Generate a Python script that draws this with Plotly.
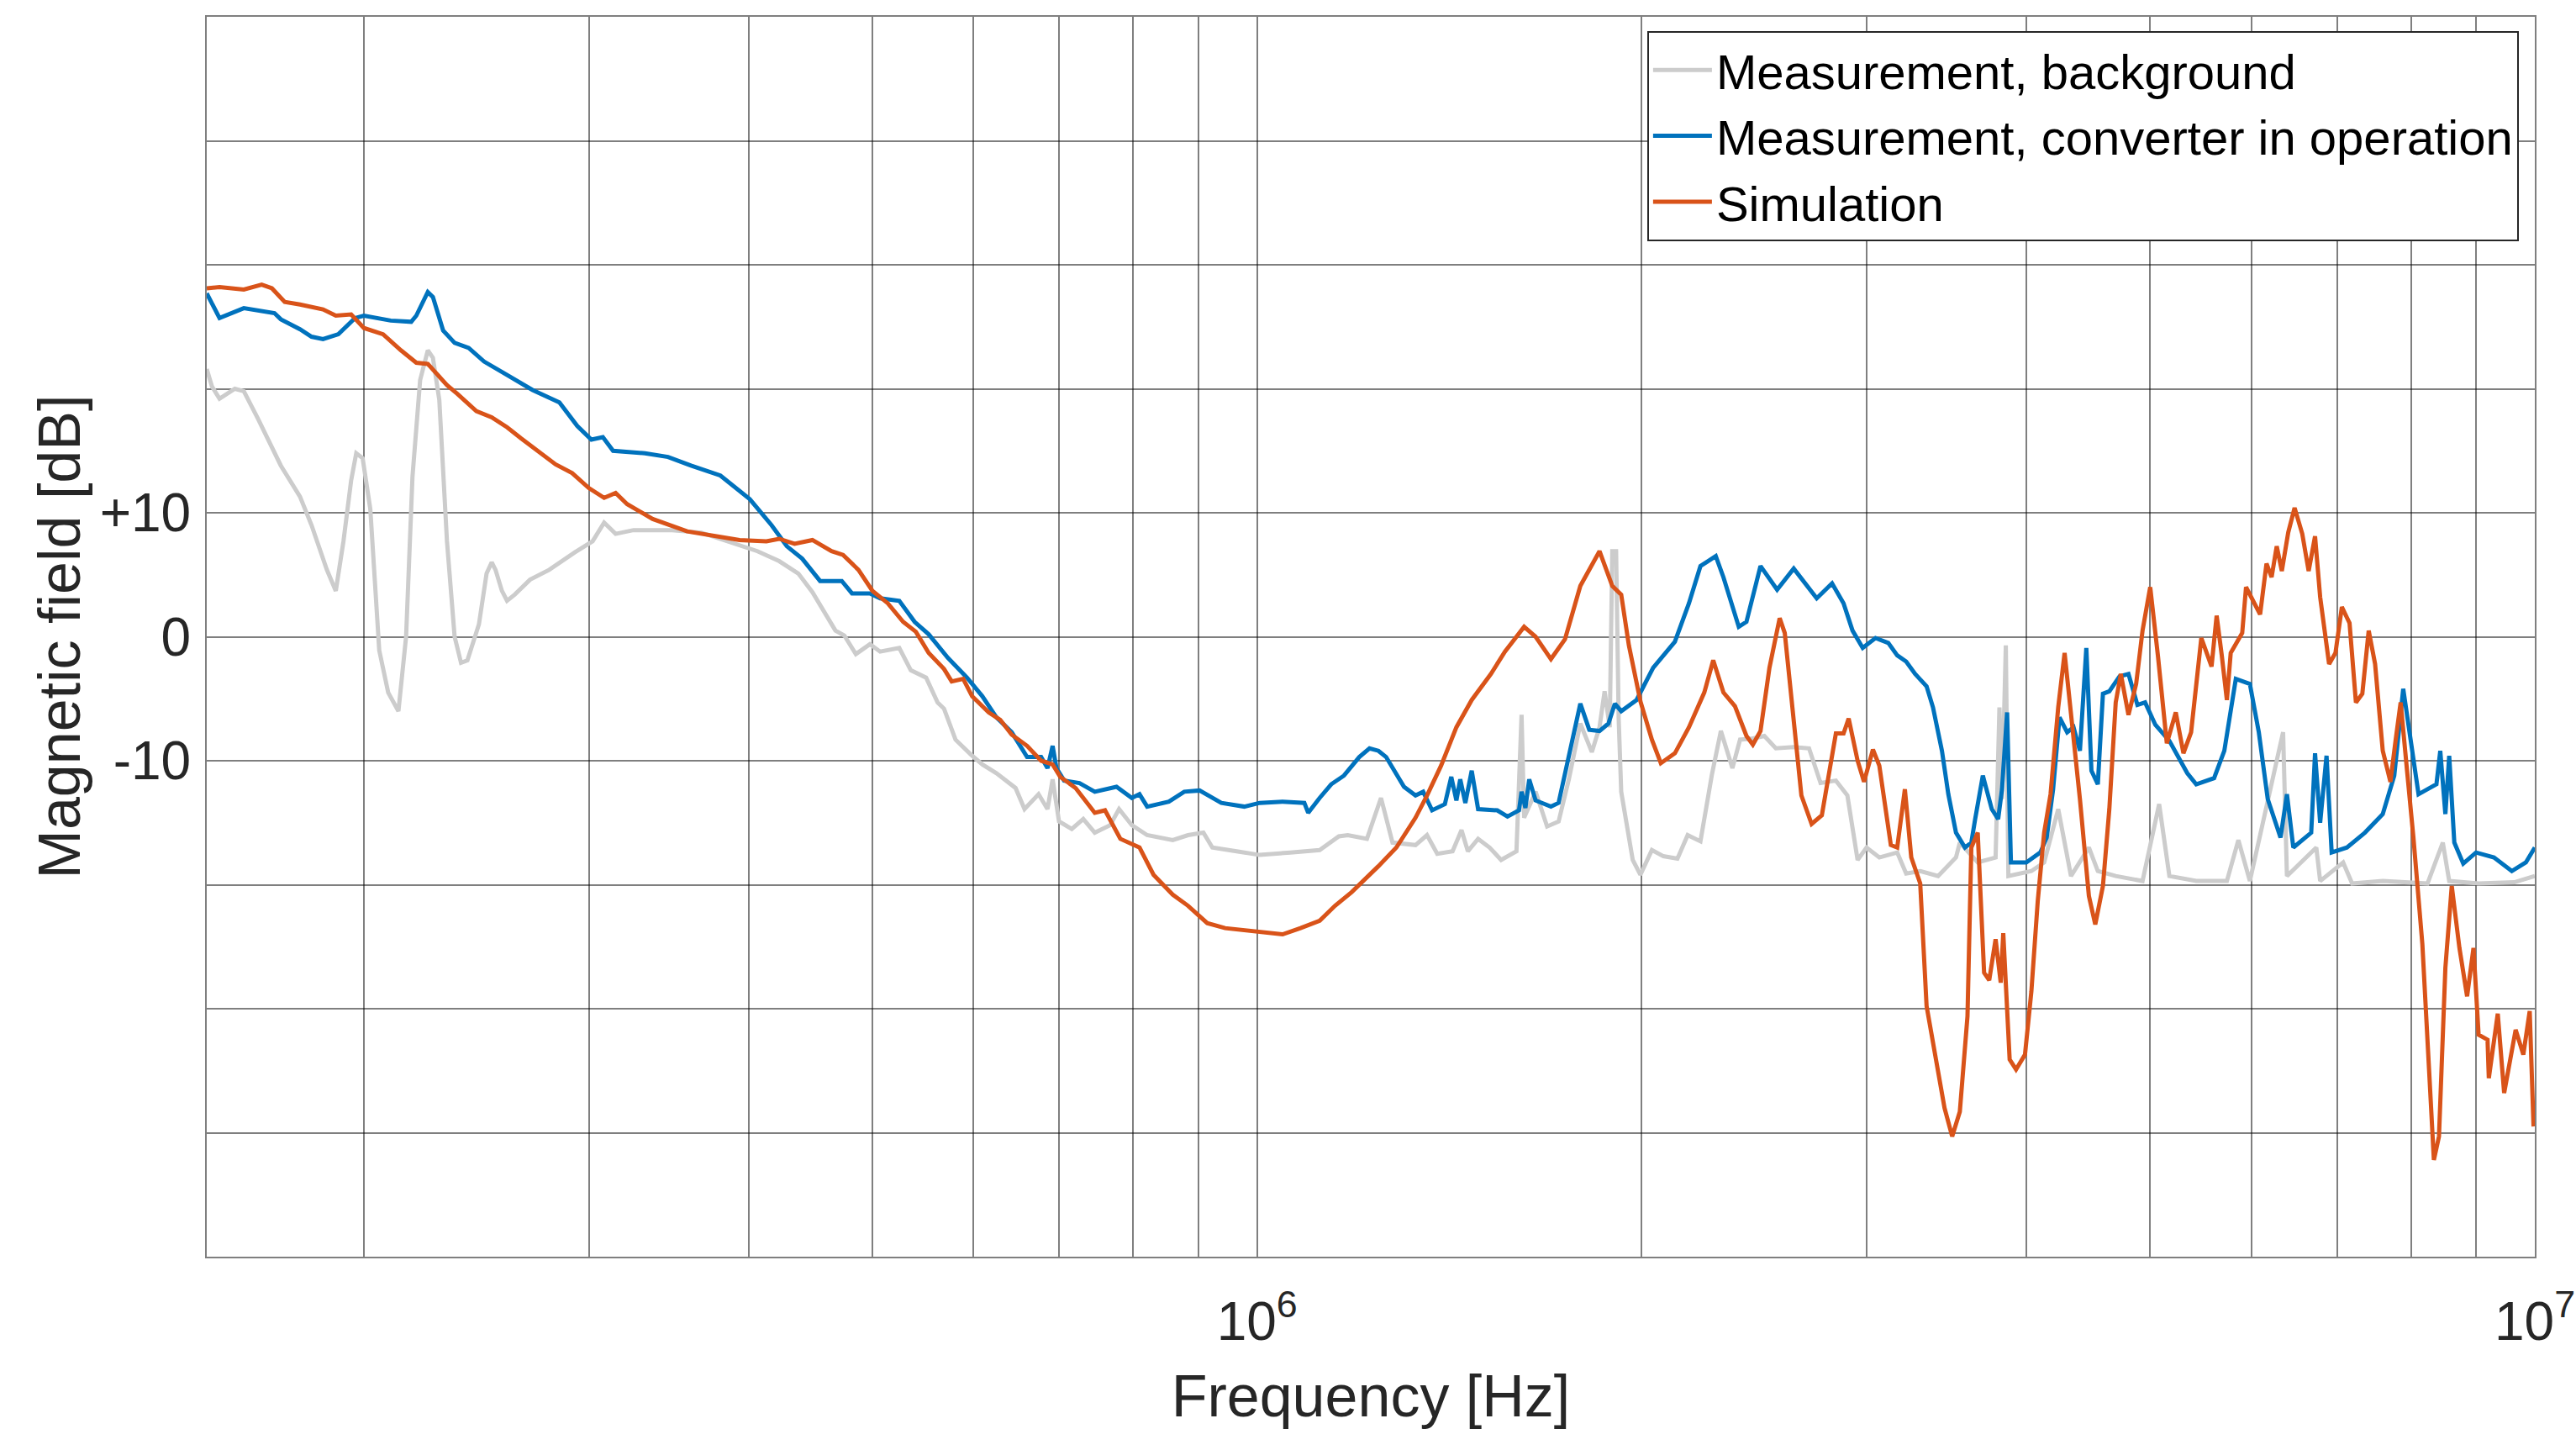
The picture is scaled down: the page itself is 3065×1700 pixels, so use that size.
import numpy as np
import plotly.graph_objects as go

# ---- data (log10 of frequency in Hz, level in dB) ----
bg_logf = [5.178, 5.182, 5.188, 5.200, 5.207, 5.218, 5.236, 5.251, 5.260, 5.272, 5.279, 5.285,
           5.291, 5.295, 5.300, 5.306, 5.313, 5.320, 5.328, 5.334, 5.339, 5.345, 5.351, 5.355,
           5.360, 5.366, 5.372, 5.377, 5.382, 5.391, 5.397, 5.401, 5.404, 5.409, 5.413, 5.419,
           5.431, 5.446, 5.466, 5.480, 5.489, 5.498, 5.512, 5.542, 5.565, 5.592, 5.609, 5.626,
           5.641, 5.652, 5.664, 5.670, 5.677, 5.686, 5.697, 5.705, 5.720, 5.729, 5.741, 5.750,
           5.755, 5.764, 5.776, 5.785, 5.796, 5.811, 5.818, 5.829, 5.836, 5.840, 5.845, 5.855,
           5.864, 5.873, 5.885, 5.892, 5.902, 5.914, 5.934, 5.946, 5.958, 5.965, 5.984, 6.002,
           6.026, 6.049, 6.064, 6.071, 6.086, 6.092, 6.097, 6.106, 6.124, 6.133, 6.141, 6.153,
           6.160, 6.165, 6.173, 6.182, 6.191, 6.203, 6.207, 6.209, 6.218, 6.227, 6.236, 6.244,
           6.253, 6.262, 6.268, 6.272, 6.276, 6.278, 6.281, 6.283, 6.285, 6.294, 6.300, 6.309,
           6.318, 6.329, 6.337, 6.347, 6.356, 6.363, 6.372, 6.378, 6.388, 6.397, 6.406, 6.420,
           6.432, 6.441, 6.453, 6.462, 6.470, 6.477, 6.487, 6.501, 6.508, 6.519, 6.533, 6.547,
           6.550, 6.564, 6.578, 6.581, 6.583, 6.586, 6.588, 6.606, 6.616, 6.627, 6.637, 6.651,
           6.658, 6.672, 6.693, 6.706, 6.714, 6.735, 6.759, 6.768, 6.777, 6.803, 6.806, 6.829,
           6.832, 6.850, 6.857, 6.881, 6.916, 6.928, 6.933, 6.956, 6.984, 7.000]
bg_db = [21.6, 20.2, 19.2, 20.0, 19.8, 17.6, 13.8, 11.3, 9.0, 5.4, 3.7, 7.7,
         12.6, 14.8, 14.4, 10.3, -1.1, -4.5, -6.0, 0.0, 12.9, 20.7, 23.1, 22.5,
         19.1, 7.7, 0.0, -2.1, -1.9, 1.0, 5.1, 6.0, 5.4, 3.7, 2.9, 3.4,
         4.6, 5.4, 6.8, 7.7, 9.2, 8.3, 8.6, 8.6, 8.4, 7.5, 6.9, 6.1,
         5.1, 3.6, 1.5, 0.5, 0.1, -1.4, -0.6, -1.2, -0.9, -2.7, -3.3, -5.3,
         -5.8, -8.3, -9.5, -10.3, -11.0, -12.2, -13.9, -12.7, -13.9, -11.5, -14.9, -15.5,
         -14.7, -15.8, -15.2, -13.9, -15.2, -16.0, -16.4, -16.0, -15.8, -17.0, -17.3, -17.6,
         -17.4, -17.2, -16.1, -16.0, -16.3, -14.6, -13.0, -16.6, -16.8, -16.0, -17.5, -17.3,
         -15.6, -17.3, -16.3, -17.0, -18.0, -17.3, -6.3, -14.6, -12.5, -15.3, -14.9, -11.5,
         -7.0, -9.3, -7.3, -4.4, -7.3, 6.9, 6.9, -6.6, -12.5, -18.0, -19.2, -17.2,
         -17.7, -17.9, -16.0, -16.5, -11.1, -7.6, -10.6, -8.3, -8.2, -8.0, -9.0, -8.9,
         -9.0, -11.8, -11.6, -12.8, -18.0, -17.0, -17.8, -17.4, -19.1, -18.9, -19.3, -17.8,
         -16.6, -18.2, -17.8, -5.7, -13.1, -0.7, -19.3, -18.9, -18.2, -13.9, -19.3, -17.0,
         -18.9, -19.3, -19.7, -13.5, -19.3, -19.7, -19.7, -16.4, -19.7, -7.7, -19.3, -17.0,
         -19.7, -18.2, -19.9, -19.7, -19.9, -16.6, -19.7, -19.9, -19.8, -19.3]

conv_logf = [5.178, 5.188, 5.207, 5.231, 5.236, 5.251, 5.260, 5.269, 5.281, 5.294, 5.301, 5.322,
             5.338, 5.342, 5.351, 5.355, 5.363, 5.372, 5.383, 5.395, 5.410, 5.433, 5.454, 5.468,
             5.479, 5.488, 5.496, 5.521, 5.539, 5.557, 5.580, 5.591, 5.603, 5.620, 5.632, 5.644,
             5.658, 5.667, 5.675, 5.683, 5.697, 5.705, 5.720, 5.732, 5.743, 5.758, 5.773, 5.785,
             5.796, 5.808, 5.820, 5.831, 5.836, 5.840, 5.843, 5.849, 5.861, 5.873, 5.890, 5.902,
             5.908, 5.914, 5.931, 5.943, 5.955, 5.972, 5.990, 6.002, 6.020, 6.037, 6.040, 6.049,
             6.058, 6.068, 6.080, 6.088, 6.095, 6.101, 6.115, 6.124, 6.130, 6.137, 6.147, 6.152,
             6.156, 6.159, 6.163, 6.168, 6.173, 6.188, 6.196, 6.205, 6.207, 6.210, 6.213, 6.218,
             6.230, 6.236, 6.241, 6.247, 6.253, 6.260, 6.268, 6.275, 6.280, 6.285, 6.297, 6.310,
             6.327, 6.338, 6.347, 6.359, 6.365, 6.377, 6.383, 6.394, 6.407, 6.420, 6.438, 6.450,
             6.459, 6.466, 6.474, 6.484, 6.494, 6.501, 6.508, 6.515, 6.524, 6.529, 6.536, 6.541,
             6.547, 6.554, 6.559, 6.562, 6.568, 6.575, 6.580, 6.583, 6.587, 6.590, 6.602, 6.613,
             6.618, 6.623, 6.628, 6.634, 6.639, 6.644, 6.649, 6.653, 6.658, 6.662, 6.667, 6.675,
             6.682, 6.689, 6.695, 6.703, 6.714, 6.728, 6.735, 6.749, 6.757, 6.766, 6.777, 6.784,
             6.791, 6.801, 6.806, 6.811, 6.825, 6.828, 6.832, 6.837, 6.841, 6.853, 6.867, 6.881,
             6.890, 6.897, 6.902, 6.909, 6.916, 6.923, 6.926, 6.930, 6.933, 6.937, 6.944, 6.954,
             6.968, 6.982, 6.993, 7.000]
conv_db = [27.7, 25.7, 26.5, 26.1, 25.6, 24.8, 24.2, 24.0, 24.4, 25.7, 25.9, 25.5,
           25.4, 25.9, 27.8, 27.4, 24.7, 23.7, 23.3, 22.2, 21.3, 19.9, 18.9, 17.0,
           15.9, 16.1, 15.0, 14.8, 14.5, 13.8, 13.0, 12.1, 11.1, 9.0, 7.3, 6.3,
           4.5, 4.5, 4.5, 3.5, 3.5, 3.1, 2.9, 1.2, 0.2, -1.7, -3.3, -4.8,
           -6.5, -7.7, -9.7, -9.7, -10.6, -8.8, -10.6, -11.6, -11.8, -12.5, -12.1, -13.0,
           -12.7, -13.7, -13.3, -12.5, -12.4, -13.4, -13.7, -13.4, -13.3, -13.4, -14.2, -13.0,
           -11.9, -11.2, -9.7, -9.0, -9.2, -9.7, -12.1, -12.8, -12.5, -14.0, -13.5, -11.3,
           -13.2, -11.5, -13.4, -10.8, -13.9, -14.0, -14.5, -14.0, -12.5, -13.8, -11.5, -13.2,
           -13.7, -13.4, -11.1, -8.0, -5.4, -7.5, -7.6, -7.0, -5.4, -6.0, -5.1, -2.5,
           -0.4, 2.7, 5.7, 6.5, 4.8, 0.8, 1.2, 5.7, 3.8, 5.5, 3.1, 4.3,
           2.7, 0.5, -0.9, -0.1, -0.5, -1.5, -2.0, -3.0, -4.0, -5.7, -9.2, -12.7,
           -15.8, -17.0, -16.6, -14.7, -11.2, -13.9, -14.7, -12.3, -6.1, -18.2, -18.2, -17.4,
           -16.2, -12.3, -6.5, -7.7, -7.3, -9.2, -0.9, -10.8, -11.9, -4.6, -4.4, -3.2,
           -3.0, -5.5, -5.3, -7.1, -8.4, -11.0, -11.9, -11.4, -9.2, -3.4, -3.8, -7.7,
           -13.1, -16.2, -12.7, -17.0, -15.8, -9.4, -15.0, -9.6, -17.4, -17.0, -15.8, -14.3,
           -11.2, -4.2, -7.7, -12.7, -12.3, -11.9, -9.2, -14.3, -9.6, -16.6, -18.3, -17.4,
           -17.8, -18.9, -18.2, -17.0]

sim_logf = [5.178, 5.188, 5.207, 5.221, 5.229, 5.239, 5.251, 5.269, 5.279, 5.291, 5.301, 5.316,
            5.330, 5.342, 5.351, 5.366, 5.374, 5.389, 5.401, 5.413, 5.424, 5.439, 5.451, 5.464,
            5.477, 5.489, 5.498, 5.507, 5.527, 5.554, 5.580, 5.595, 5.616, 5.626, 5.638, 5.652,
            5.667, 5.676, 5.688, 5.699, 5.711, 5.723, 5.733, 5.743, 5.755, 5.761, 5.770, 5.777,
            5.790, 5.799, 5.808, 5.820, 5.831, 5.840, 5.846, 5.858, 5.873, 5.881, 5.893, 5.908,
            5.919, 5.934, 5.946, 5.961, 5.975, 5.996, 6.020, 6.034, 6.049, 6.061, 6.074, 6.095,
            6.109, 6.124, 6.133, 6.144, 6.156, 6.168, 6.183, 6.194, 6.209, 6.218, 6.230, 6.241,
            6.253, 6.268, 6.278, 6.285, 6.291, 6.300, 6.309, 6.316, 6.327, 6.338, 6.350, 6.357,
            6.365, 6.374, 6.383, 6.388, 6.394, 6.401, 6.409, 6.413, 6.419, 6.426, 6.434, 6.442,
            6.453, 6.459, 6.463, 6.470, 6.475, 6.482, 6.487, 6.496, 6.501, 6.507, 6.512, 6.519,
            6.524, 6.531, 6.538, 6.544, 6.550, 6.556, 6.559, 6.564, 6.569, 6.573, 6.578, 6.582,
            6.584, 6.589, 6.594, 6.601, 6.606, 6.611, 6.616, 6.621, 6.627, 6.632, 6.637, 6.644,
            6.651, 6.656, 6.662, 6.667, 6.672, 6.676, 6.682, 6.688, 6.693, 6.699, 6.705, 6.712,
            6.719, 6.725, 6.731, 6.739, 6.747, 6.751, 6.755, 6.759, 6.762, 6.771, 6.774, 6.785,
            6.790, 6.794, 6.798, 6.802, 6.807, 6.812, 6.818, 6.823, 6.828, 6.832, 6.839, 6.844,
            6.849, 6.855, 6.860, 6.865, 6.870, 6.875, 6.881, 6.887, 6.891, 6.895, 6.900, 6.905,
            6.912, 6.916, 6.921, 6.925, 6.930, 6.935, 6.941, 6.947, 6.952, 6.956, 6.963, 6.964,
            6.971, 6.976, 6.985, 6.991, 6.996, 6.999]
sim_db = [28.1, 28.2, 28.0, 28.4, 28.1, 27.0, 26.8, 26.4, 25.9, 26.0, 24.9, 24.4,
          23.1, 22.1, 22.0, 20.3, 19.6, 18.2, 17.7, 16.9, 16.0, 14.8, 13.9, 13.2,
          12.0, 11.2, 11.6, 10.7, 9.5, 8.5, 8.1, 7.8, 7.7, 7.9, 7.5, 7.8,
          6.9, 6.6, 5.4, 3.7, 2.7, 1.2, 0.4, -1.3, -2.6, -3.6, -3.4, -4.8,
          -6.1, -6.7, -7.9, -8.8, -10.0, -10.3, -11.3, -12.2, -14.2, -14.0, -16.3, -17.0,
          -19.2, -20.8, -21.7, -23.1, -23.5, -23.7, -24.0, -23.5, -22.9, -21.7, -20.6, -18.5,
          -17.0, -14.6, -12.8, -10.4, -7.3, -5.1, -3.0, -1.2, 0.8, 0.0, -1.8, -0.2,
          4.1, 6.9, 4.1, 3.4, -0.7, -5.2, -8.3, -10.2, -9.4, -7.3, -4.5, -1.9,
          -4.5, -5.6, -8.0, -8.7, -7.6, -2.5, 1.5, 0.3, -5.9, -12.8, -15.1, -14.4,
          -7.8, -7.8, -6.6, -10.0, -11.7, -9.1, -10.4, -16.8, -17.0, -12.3, -17.8, -19.9,
          -29.8, -34.1, -38.0, -40.3, -38.3, -30.6, -17.0, -15.8, -27.1, -27.7, -24.4, -27.9,
          -23.9, -34.1, -34.9, -33.7, -28.6, -21.3, -15.8, -12.7, -5.7, -1.3, -6.1, -13.1,
          -20.9, -23.2, -20.1, -13.9, -5.3, -3.0, -6.3, -3.8, 0.5, 4.0, -1.5, -8.6,
          -6.1, -9.4, -7.7, -0.1, -2.4, 1.7, -1.5, -5.1, -1.3, 0.3, 4.0, 1.8,
          5.9, 4.8, 7.3, 5.3, 8.4, 10.4, 8.3, 5.3, 8.1, 3.2, -2.2, -1.3,
          2.4, 1.1, -5.3, -4.6, 0.5, -2.2, -9.2, -11.7, -8.4, -5.3, -10.8, -16.2,
          -24.8, -32.5, -42.2, -40.3, -26.7, -20.1, -25.1, -29.0, -25.1, -32.1, -32.5, -35.6,
          -30.4, -36.8, -31.7, -33.7, -30.2, -39.5]

series_names = ["Measurement, background", "Measurement, converter in operation", "Simulation"]
series_colors = ["#CCCCCC", "#0072BD", "#D95319"]

x_tick_vals = [2e5, 3e5, 4e5, 5e5, 6e5, 7e5, 8e5, 9e5, 1e6,
               2e6, 3e6, 4e6, 5e6, 6e6, 7e6, 8e6, 9e6, 1e7]
x_tick_text = ["" for _ in x_tick_vals]
x_tick_text[x_tick_vals.index(1e6)] = "10<sup>6</sup>"
x_tick_text[x_tick_vals.index(1e7)] = "10<sup>7</sup>"

y_tick_vals = [-50, -40, -30, -20, -10, 0, 10, 20, 30, 40, 50]
y_tick_text = ["", "", "", "", "-10", "0", "+10", "", "", "", ""]

FONT = "Liberation Sans, Arial, Helvetica, sans-serif"
GRID = "rgba(0,0,0,0.5)"

fig = go.Figure()
for lf, db, name, col in [(bg_logf, bg_db, series_names[0], series_colors[0]),
                          (conv_logf, conv_db, series_names[1], series_colors[1]),
                          (sim_logf, sim_db, series_names[2], series_colors[2])]:
    fig.add_trace(go.Scatter(x=10 ** np.array(lf), y=db, mode="lines", name=name,
                             line=dict(color=col, width=5)))

fig.update_layout(
    width=3065, height=1700,
    margin=dict(l=246, r=49, t=20, b=205, autoexpand=False),
    paper_bgcolor="white", plot_bgcolor="white",
    font=dict(family=FONT, size=64, color="#262626"),
    showlegend=True,
    legend=dict(x=0.9931, y=0.9885, xanchor="right", yanchor="top",
                bgcolor="white", bordercolor="#262626", borderwidth=2,
                font=dict(family=FONT, size=58, color="black"),
                itemwidth=70, tracegroupgap=0),
)
fig.update_xaxes(type="log", range=[5.178, 7.0], automargin=False,
                 tickmode="array", tickvals=x_tick_vals, ticktext=x_tick_text,
                 showgrid=True, gridcolor=GRID, gridwidth=2,
                 showline=True, linecolor="rgba(0,0,0,0.5)", linewidth=2, mirror=True,
                 ticks="", zeroline=False, ticklabelstandoff=20,
                 title=dict(text="Frequency [Hz]", font=dict(family=FONT, size=70, color="#262626"),
                            standoff=30))
fig.update_yaxes(range=[-50, 50], automargin=False,
                 tickmode="array", tickvals=y_tick_vals, ticktext=y_tick_text,
                 showgrid=True, gridcolor=GRID, gridwidth=2,
                 showline=True, linecolor="rgba(0,0,0,0.5)", linewidth=2, mirror=True,
                 ticks="", zeroline=False, ticklabelstandoff=4,
                 title=dict(text="Magnetic field [dB]", font=dict(family=FONT, size=70, color="#262626"),
                            standoff=0))

# the page's default body margin would shift the figure; remove it
fig.write_html("out.html", config={"displayModeBar": False},
               post_script="document.body.style.margin='0';")
